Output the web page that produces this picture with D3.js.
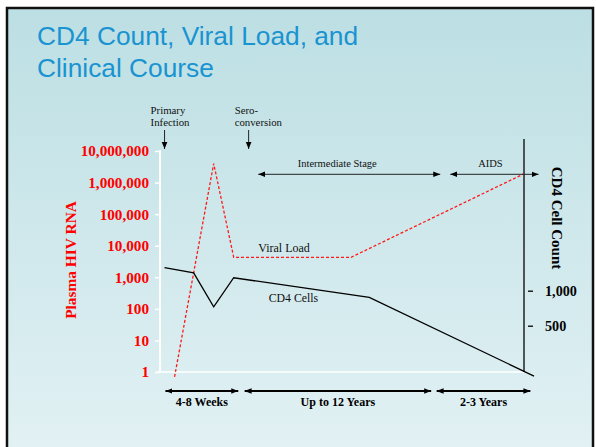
<!DOCTYPE html>
<html><head><meta charset="utf-8">
<script src="https://cdn.jsdelivr.net/npm/d3@7"></script>
<style>html,body{margin:0;padding:0;background:#fff;}svg{display:block;}</style>
</head><body>
<script>
// ---- data ----
const titleLines = ["CD4 Count, Viral Load, and", "Clinical Course"];
// time positions are schematic units along the clinical course
const viralTime = [0.8, 2.95, 4.05, 10.5, 20];
const viralLoad = [0.7, 4000000, 4300, 4300, 1900000];
const cd4Time = [0.25, 1.85, 2.95, 4.05, 11.5, 20.55];
const cd4Count = [1330, 1255, 770, 1185, 905, -220];
const rnaTicks = [1, 10, 100, 1000, 10000, 100000, 1000000, 10000000];
const cd4Ticks = [500, 1000];
const periods = [
  {label: "4-8 Weeks", from: 0.3, to: 4.3},
  {label: "Up to 12 Years", from: 4.65, to: 14.9},
  {label: "2-3 Years", from: 15.2, to: 20.35}
];
const stages = [
  {label: "Intermediate Stage", from: 5.4, to: 15.4},
  {label: "AIDS", from: 15.95, to: 20.8}
];
const events = [
  {label: ["Primary", "Infection"], t: 0.25},
  {label: ["Sero-", "conversion"], t: 4.87}
];

const W = 596, H = 447;
const svg = d3.select("body").append("svg").attr("width", W).attr("height", H);
const defs = svg.append("defs");
const grad = defs.append("linearGradient").attr("id", "bg").attr("x1", 0).attr("y1", 0).attr("x2", 0).attr("y2", 1);
grad.append("stop").attr("offset", "0%").attr("stop-color", "#bcdfe3");
grad.append("stop").attr("offset", "100%").attr("stop-color", "#e2f1f4");
defs.append("marker").attr("id", "arr").attr("viewBox", "0 0 10 10").attr("refX", 10).attr("refY", 5)
  .attr("markerWidth", 7).attr("markerHeight", 7).attr("markerUnits", "userSpaceOnUse").attr("orient", "auto-start-reverse")
  .append("path").attr("d", "M0,1 L10,5 L0,9 Z").attr("fill", "#000");

svg.append("rect").attr("width", W).attr("height", H).attr("fill", "#fff");
svg.append("rect").attr("x", 7).attr("y", 8).attr("width", 586).attr("height", H).attr("fill", "url(#bg)")
  .attr("stroke", "#111").attr("stroke-width", 2.5);

// title
svg.append("text").attr("font-family", "Liberation Sans, Arial, sans-serif").attr("font-size", 26.3)
  .attr("fill", "#1a93d1")
  .selectAll("tspan").data(titleLines).join("tspan").attr("x", 37).attr("y", (d, i) => 45 + i * 32).text(d => d);

// scales
const x = d3.scaleLinear().domain([0, 20]).range([160, 524]);
const yRna = d3.scaleLog().domain([1, 10000000]).range([372, 151]);
const yCd4 = d3.scaleLinear().domain([0, 1000]).range([360.7, 290.7]);
const serif = "Liberation Serif, Times New Roman, serif";

// left axis
const la = svg.append("g").attr("transform", "translate(160,0)")
  .call(d3.axisLeft(yRna).tickValues(rnaTicks).tickSize(5).tickFormat(d3.format(",")));
la.select(".domain").attr("stroke", "#fff").attr("stroke-width", 2).attr("d", "M0," + yRna(1) + "V" + (yRna(10000000) - 1));
la.selectAll(".tick line").attr("stroke", "#fff").attr("stroke-width", 1.5);
la.selectAll(".tick text").attr("x", -11).attr("fill", "#ff0000").attr("font-family", serif)
  .attr("font-weight", "bold").attr("font-size", 15.2);

// baseline
svg.append("line").attr("x1", 157).attr("x2", x(20)).attr("y1", yRna(1)).attr("y2", yRna(1)).attr("stroke", "#fff").attr("stroke-width", 1.5);

// right axis
svg.append("line").attr("x1", x(20)).attr("x2", x(20)).attr("y1", 139).attr("y2", yRna(1)).attr("stroke", "#222").attr("stroke-width", 1.5);
const ra = svg.append("g").attr("transform", "translate(" + (x(20) + 4) + ",0)")
  .call(d3.axisRight(yCd4).tickValues(cd4Ticks).tickSize(5).tickFormat(d3.format(",")));
ra.select(".domain").remove();
ra.selectAll(".tick line").attr("stroke", "#000").attr("stroke-width", 1.3);
ra.selectAll(".tick text").attr("x", 17).attr("fill", "#000").attr("font-family", serif)
  .attr("font-weight", "bold").attr("font-size", 14.2);

// axis titles
svg.append("text").attr("transform", "translate(76,260) rotate(-90)").attr("text-anchor", "middle")
  .attr("font-family", serif).attr("font-weight", "bold").attr("font-size", 15.4)
  .attr("fill", "#ff0000").text("Plasma HIV RNA");
svg.append("text").attr("transform", "translate(552,218) rotate(90)").attr("text-anchor", "middle")
  .attr("font-family", serif).attr("font-weight", "bold").attr("font-size", 15)
  .attr("fill", "#000").text("CD4 Cell Count");

// lines
const vl = viralTime.map((t, i) => [t, viralLoad[i]]);
svg.append("path").datum(vl).attr("fill", "none").attr("stroke", "#ff1a1a").attr("stroke-width", 1.3)
  .attr("stroke-dasharray", "3,2")
  .attr("d", d3.line().x(d => x(d[0])).y(d => yRna(d[1])));
const cd = cd4Time.map((t, i) => [t, cd4Count[i]]);
svg.append("path").datum(cd).attr("fill", "none").attr("stroke", "#000").attr("stroke-width", 1.3)
  .attr("d", d3.line().x(d => x(d[0])).y(d => yCd4(d[1])));

svg.append("text").attr("x", x(5.4)).attr("y", 251.5).attr("font-family", serif).attr("font-size", 12).attr("fill", "#111").text("Viral Load");
svg.append("text").attr("x", x(5.97)).attr("y", 301.5).attr("font-family", serif).attr("font-size", 11.8).attr("fill", "#111").text("CD4 Cells");

// events
const ev = svg.selectAll(".ev").data(events).join("g");
ev.append("text").attr("font-family", serif).attr("font-size", 10.8).attr("fill", "#111")
  .selectAll("tspan").data(d => d.label.map(l => ({l, t: d.t}))).join("tspan")
  .attr("x", d => x(d.t) - 14).attr("y", (d, i) => 114 + i * 12).text(d => d.l);
ev.append("line").attr("x1", d => x(d.t)).attr("x2", d => x(d.t)).attr("y1", 130).attr("y2", 149)
  .attr("stroke", "#222").attr("stroke-width", 1).attr("marker-end", "url(#arr)");

// stages
const st = svg.selectAll(".st").data(stages).join("g");
st.append("line").attr("x1", d => x(d.from)).attr("x2", d => x(d.to)).attr("y1", 174.3).attr("y2", 174.3)
  .attr("stroke", "#222").attr("stroke-width", 1).attr("marker-start", "url(#arr)").attr("marker-end", "url(#arr)");
st.append("text").attr("x", (d, i) => i ? x((d.from + d.to) / 2) - 4 : x((d.from + d.to) / 2) - 12).attr("y", 167)
  .attr("text-anchor", "middle").attr("font-family", serif).attr("font-size", 10.5).attr("fill", "#111").text(d => d.label);

// periods
const pr = svg.selectAll(".pr").data(periods).join("g");
pr.append("line").attr("x1", d => x(d.from)).attr("x2", d => x(d.to)).attr("y1", 391).attr("y2", 391)
  .attr("stroke", "#000").attr("stroke-width", 2).attr("marker-start", "url(#arr)").attr("marker-end", "url(#arr)");
pr.append("text").attr("x", d => x((d.from + d.to) / 2)).attr("y", 406).attr("text-anchor", "middle")
  .attr("font-family", serif).attr("font-weight", "bold").attr("font-size", 12).attr("fill", "#000").text(d => d.label);
</script>
</body></html>
